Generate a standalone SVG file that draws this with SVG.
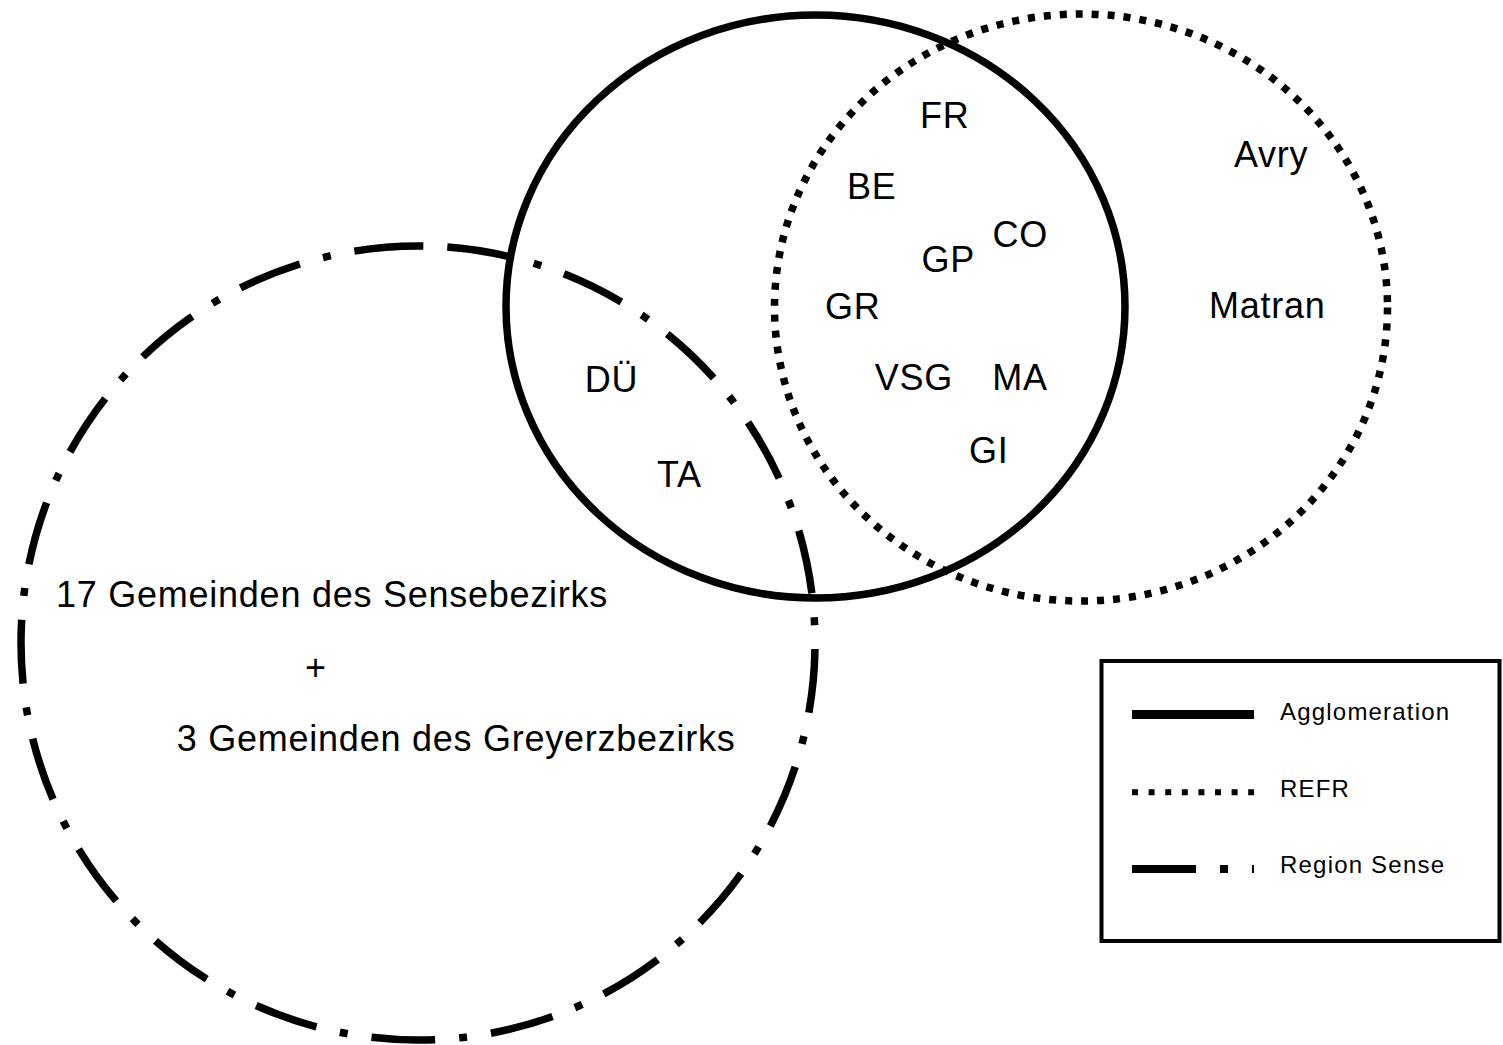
<svg xmlns="http://www.w3.org/2000/svg" width="1503" height="1045" viewBox="0 0 1503 1045">
<style>
  .lbl { font-family: "Liberation Sans", Arial, sans-serif; font-size: 36px; letter-spacing: 0.75px; fill: #000; }
  .leg { font-family: "Liberation Sans", Arial, sans-serif; font-size: 24px; letter-spacing: 1.2px; fill: #000; }
  .ring { fill: none; stroke: #000; stroke-width: 7.5; }
  .dotted { stroke-dasharray: 7 9; }
  .dashdot { stroke-dasharray: 64 24 8 24; }
</style>
<rect width="1503" height="1045" fill="#fff"/>
<g id="region-sense">
  <path class="ring dashdot" d="M 418 246 A 397 397 0 0 0 418 1040 A 397 397 0 0 0 418 246"/>
</g>
<g id="agglomeration">
  <ellipse class="ring" cx="815.5" cy="306.5" rx="309.5" ry="291.5"/>
</g>
<g id="refr">
  <ellipse class="ring dotted" cx="1081" cy="307.5" rx="306.5" ry="293.5"/>
</g>
<g id="labels">
  <text class="lbl" x="920" y="128">FR</text>
  <text class="lbl" x="847" y="199">BE</text>
  <text class="lbl" x="992.5" y="247">CO</text>
  <text class="lbl" x="921.6" y="272">GP</text>
  <text class="lbl" x="825" y="319">GR</text>
  <text class="lbl" x="874.7" y="390">VSG</text>
  <text class="lbl" x="992.3" y="390">MA</text>
  <text class="lbl" x="969" y="463">GI</text>
  <text class="lbl" x="584.8" y="392">DÜ</text>
  <text class="lbl" x="657" y="487">TA</text>
  <text class="lbl" x="1234" y="167">Avry</text>
  <text class="lbl" x="1209" y="318">Matran</text>
  <text class="lbl" x="56" y="607">17 Gemeinden des Sensebezirks</text>
  <text class="lbl" x="305" y="680">+</text>
  <text class="lbl" x="176.8" y="751">3 Gemeinden des Greyerzbezirks</text>
</g>
<g id="legend">
  <rect x="1101.5" y="661" width="398" height="280" fill="#fff" stroke="#000" stroke-width="4"/>
  <line x1="1132" y1="714.5" x2="1254" y2="714.5" stroke="#000" stroke-width="9"/>
  <line x1="1132" y1="792.3" x2="1254" y2="792.3" stroke="#000" stroke-width="6" stroke-dasharray="6 10.6"/>
  <line x1="1132" y1="869" x2="1254" y2="869" stroke="#000" stroke-width="8" stroke-dasharray="64 24 8 24"/>
  <text class="leg" x="1280" y="720">Agglomeration</text>
  <text class="leg" x="1280" y="797">REFR</text>
  <text class="leg" x="1280" y="873">Region Sense</text>
</g>
</svg>
